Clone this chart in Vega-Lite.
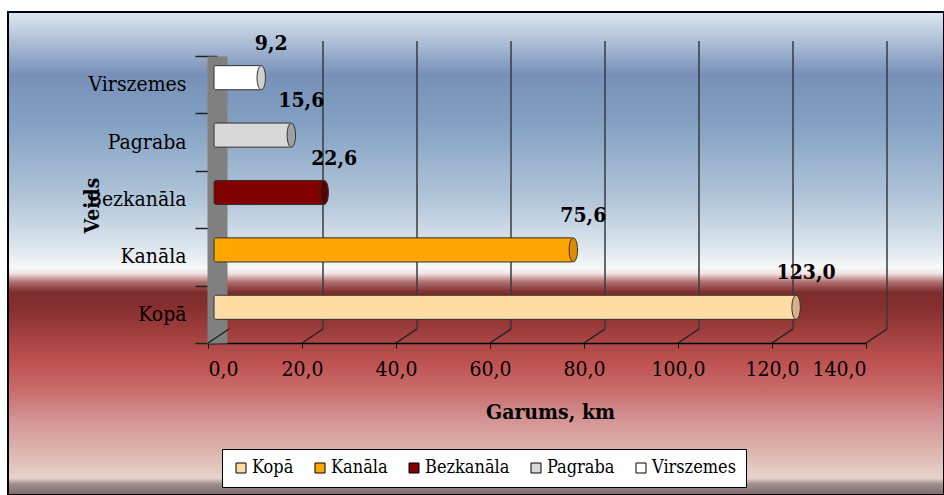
{
  "$schema": "https://vega.github.io/schema/vega-lite/v6.json",
  "width": 936,
  "height": 483,
  "autosize": {"type": "none"},
  "padding": {"left": 8, "top": 12, "right": 0, "bottom": 0},
  "background": "#ffffff",
  "config": {
    "locale": {"number": {"decimal": ",", "thousands": " ", "grouping": [3], "currency": ["", " €"]}},
    "view": {
      "stroke": "#000000",
      "strokeWidth": 2,
      "fill": {
        "gradient": "linear", "x1": 0, "y1": 0, "x2": 0, "y2": 1,
        "stops": [
          {"offset": 0, "color": "#dce8f2"},
          {"offset": 0.037, "color": "#c0d0e2"},
          {"offset": 0.13, "color": "#7890b8"},
          {"offset": 0.224, "color": "#82a0c2"},
          {"offset": 0.39, "color": "#b2c6da"},
          {"offset": 0.493, "color": "#e0e8f0"},
          {"offset": 0.53, "color": "#f8f8f8"},
          {"offset": 0.542, "color": "#f0e0e0"},
          {"offset": 0.559, "color": "#b07070"},
          {"offset": 0.58, "color": "#7e2c2c"},
          {"offset": 0.617, "color": "#883030"},
          {"offset": 0.679, "color": "#a84444"},
          {"offset": 0.731, "color": "#c05454"},
          {"offset": 0.783, "color": "#c86c6c"},
          {"offset": 0.845, "color": "#d49494"},
          {"offset": 0.907, "color": "#dcb4ac"},
          {"offset": 0.965, "color": "#e8d4cc"},
          {"offset": 0.977, "color": "#a09090"},
          {"offset": 1, "color": "#806868"}
        ]
      }
    },
    "axis": {
      "labelFont": "DejaVu Serif Condensed",
      "labelFontSize": 21,
      "labelColor": "#000000",
      "titleFont": "DejaVu Serif Condensed",
      "titleFontSize": 21,
      "titleFontWeight": "bold",
      "titleColor": "#000000",
      "grid": false
    },
    "legend": {
      "strokeColor": "#000000",
      "fillColor": "#ffffff",
      "padding": 10,
      "columnPadding": 17,
      "labelFont": "DejaVu Serif Condensed",
      "labelFontSize": 18,
      "labelColor": "#000000",
      "labelOffset": 2,
      "labelLimit": 300,
      "symbolType": "square",
      "symbolSize": 100,
      "symbolStrokeColor": "#000000",
      "symbolStrokeWidth": 1,
      "symbolOpacity": 1
    }
  },
  "datasets": {
    "bars": [
      {"veids": "Kopā", "garums": 123.0},
      {"veids": "Kanāla", "garums": 75.6},
      {"veids": "Bezkanāla", "garums": 22.6},
      {"veids": "Pagraba", "garums": 15.6},
      {"veids": "Virszemes", "garums": 9.2}
    ],
    "grid": [{"v": 20}, {"v": 40}, {"v": 60}, {"v": 80}, {"v": 100}, {"v": 120}, {"v": 140}],
    "floor": [{"v": 0}, {"v": 20}, {"v": 40}, {"v": 60}, {"v": 80}, {"v": 100}, {"v": 120}, {"v": 140}]
  },
  "layer": [
    {
      "data": {"name": "grid"},
      "mark": {"type": "rule", "color": "#3a3a3a", "strokeWidth": 1.5, "xOffset": 21, "yOffset": -15, "y2Offset": 14.7},
      "encoding": {
        "x": {
          "field": "v", "type": "quantitative",
          "scale": {"domain": [0, 140], "range": [200, 858], "nice": false, "zero": true},
          "axis": {
            "values": [0, 20, 40, 60, 80, 100, 120, 140],
            "format": ".1f",
            "title": "Garums, km",
            "offset": -152,
            "tickSize": 5,
            "tickColor": "#000000",
            "labelPadding": 10,
            "domainColor": "#000000",
            "domainWidth": 1.5,
            "titleX": 542,
            "titleY": 69,
            "titleAlign": "center",
            "titleBaseline": "middle"
          }
        },
        "y": {
          "datum": "Virszemes", "type": "nominal", "bandPosition": 0,
          "scale": {"domain": ["Virszemes", "Pagraba", "Bezkanāla", "Kanāla", "Kopā"], "range": [44, 331], "paddingInner": 0, "paddingOuter": 0},
          "axis": {
            "title": "Veids",
            "offset": -209,
            "domainColor": "#808080",
            "domainWidth": 20,
            "tickBand": "extent",
            "tickSize": 22,
            "tickColor": "#202020",
            "tickWidth": 1.5,
            "labelPadding": 9,
            "titleX": -125,
            "titleY": 193,
            "titleAngle": 270,
            "titleAlign": "center",
            "titleBaseline": "middle"
          }
        },
        "y2": {"datum": "Kopā"}
      }
    },
    {
      "data": {"name": "floor"},
      "mark": {"type": "rule", "color": "#202020", "strokeWidth": 1.5, "x2Offset": 21, "y2Offset": 14.7},
      "encoding": {
        "x": {"field": "v", "type": "quantitative"},
        "x2": {"field": "v"},
        "y": {"datum": "Kopā", "type": "nominal", "bandPosition": 1},
        "y2": {"datum": "Kopā"}
      }
    },
    {
      "data": {"name": "bars"},
      "mark": {"type": "bar", "height": {"band": 0.42}, "yOffset": -7, "xOffset": 10, "x2Offset": 6, "stroke": "#303030", "strokeWidth": 1, "cornerRadius": 2},
      "encoding": {
        "x": {"field": "garums", "type": "quantitative", "stack": null},
        "x2": {"datum": 0},
        "y": {"field": "veids", "type": "nominal"},
        "color": {
          "field": "veids", "type": "nominal", "title": null,
          "scale": {"domain": ["Kopā", "Kanāla", "Bezkanāla", "Pagraba", "Virszemes"], "range": ["#ffdba5", "#ffa500", "#800000", "#d8d8d8", "#ffffff"]},
          "legend": {"orient": "none", "legendX": 214, "legendY": 437, "direction": "horizontal", "columns": 5, "title": null}
        }
      }
    },
    {
      "data": {"name": "bars"},
      "mark": {"type": "point", "shape": "M0,-1 A0.35,1 0 1,1 0,1 A0.35,1 0 1,1 0,-1 Z", "size": 576, "filled": true, "opacity": 1, "xOffset": 10, "yOffset": -7, "stroke": "#303030", "strokeWidth": 1},
      "encoding": {
        "x": {"field": "garums", "type": "quantitative"},
        "y": {"field": "veids", "type": "nominal"},
        "fill": {
          "field": "veids", "type": "nominal", "legend": null,
          "scale": {"domain": ["Kopā", "Kanāla", "Bezkanāla", "Pagraba", "Virszemes"], "range": ["#d8b088", "#e08c00", "#5a0000", "#a0a0a0", "#d0d0d0"]}
        }
      }
    },
    {
      "data": {"name": "bars"},
      "mark": {"type": "text", "font": "DejaVu Serif Condensed", "fontSize": 21, "fontWeight": "bold", "color": "#000000", "align": "center", "baseline": "middle", "dx": 20, "dy": -41},
      "encoding": {
        "x": {"field": "garums", "type": "quantitative"},
        "y": {"field": "veids", "type": "nominal"},
        "text": {"field": "garums", "type": "quantitative", "format": ".1f"}
      }
    }
  ]
}
